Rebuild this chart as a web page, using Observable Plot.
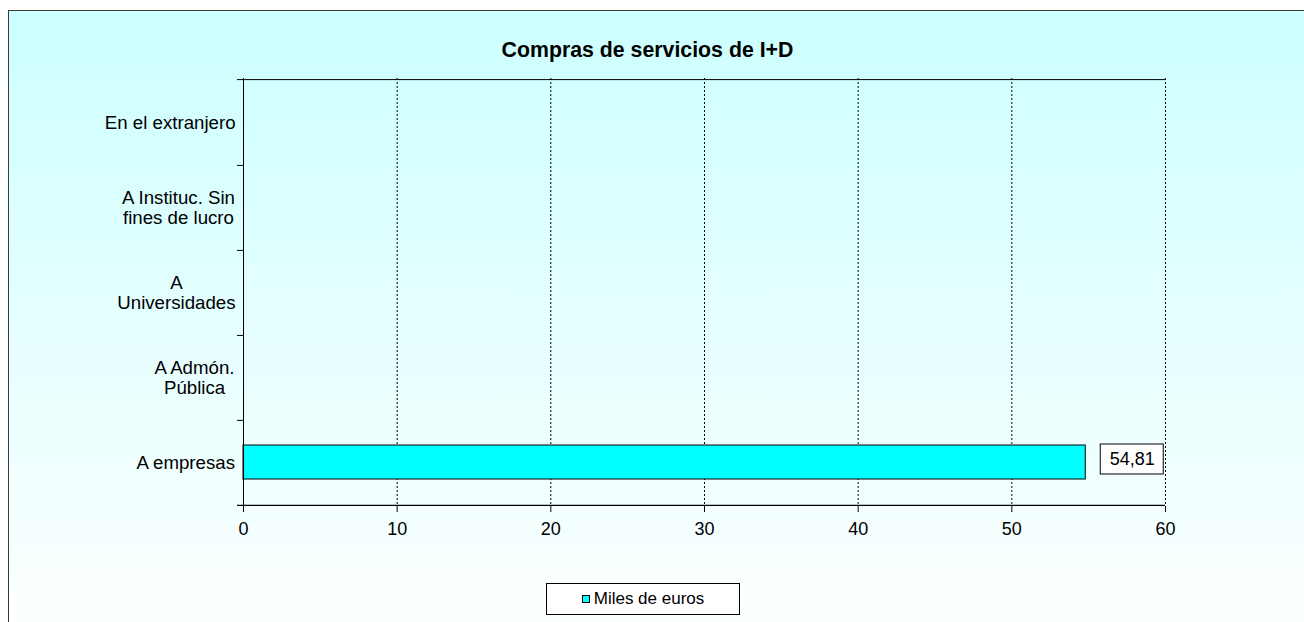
<!DOCTYPE html>
<html>
<head>
<meta charset="utf-8">
<script src="https://cdn.jsdelivr.net/npm/d3@7"></script>
<script src="https://cdn.jsdelivr.net/npm/@observablehq/plot@0.6"></script>
<style>
html, body { margin: 0; padding: 0; background: #ffffff; width: 1304px; height: 622px; overflow: hidden; font-family: "Liberation Sans", Arial, sans-serif; }
#bg { position: absolute; left: 8px; top: 10px; width: 1400px; height: 640px; border-left: 1px solid #3a3a3a; border-top: 1px solid #3a3a3a; background: linear-gradient(#CCFFFF, #FFFFFF); }
#title { position: absolute; left: 0; top: 38px; width: 1295px; text-align: center; font-weight: bold; font-size: 21.3px; line-height: 24px; color: #000; }
#plot { position: absolute; left: 0; top: 0; }
#plot svg { background: transparent; overflow: visible; }
#legend { position: absolute; left: 546px; top: 583px; width: 194px; height: 32px; box-sizing: border-box; border: 1px solid #000; background: #fff; display: flex; align-items: center; justify-content: center; font-size: 17px; color: #000; }
#legend .sw { width: 8px; height: 8px; box-sizing: border-box; border: 1px solid #000; background: #00FFFF; margin-right: 4px; }
</style>
</head>
<body>
<div id="bg"></div>
<div id="title">Compras de servicios de I+D</div>
<div id="plot"></div>
<div id="legend"><span class="sw"></span><span>Miles de euros</span></div>
<script>
// ---- data ----
const categories = ["En el extranjero", "A Instituc. Sin fines de lucro", "A Universidades", "A Admón. Pública", "A empresas"];
const categoryLabels = ["En el extranjero", "A Instituc. Sin\nfines de lucro", "A\nUniversidades", "A Admón.\nPública", "A empresas"];
const values = [0, 0, 0, 0, 54.81];
const xTicks = [0, 10, 20, 30, 40, 50, 60];
const seriesName = "Miles de euros";

// ---- layout ----
const W = 1304, mLeft = 243, mRight = 139, mTop = 78, plotBottom = 507, mBottom = 53;
const H = plotBottom + mBottom;
const step = (plotBottom - mTop) / categories.length;
const font = '"Liberation Sans", Arial, sans-serif';

const data = categories.map((c, i) => ({category: c, label: categoryLabels[i], value: values[i]}));
const barData = data.filter(d => d.value > 0);

const canvas = document.createElement("canvas");
const ctx = canvas.getContext("2d");
ctx.font = `18.67px ${font}`;
const labelMarks = data.map(d => {
  const w = Math.max(...d.label.split("\n").map(l => ctx.measureText(l).width));
  return Plot.text([d], {y: "category", text: "label", frameAnchor: "left", textAnchor: "middle",
    dx: -(8 + w / 2), fontSize: 18.67, lineHeight: 1.07, fill: "#000"});
});

const chart = Plot.plot({
  width: W, height: H,
  marginLeft: mLeft, marginRight: mRight, marginTop: mTop, marginBottom: mBottom,
  style: {background: "transparent", fontFamily: font, color: "#000", overflow: "visible"},
  x: {domain: [0, 60], ticks: xTicks},
  y: {domain: categories, type: "band", paddingInner: 0.6, paddingOuter: 0.3, axis: null},
  marks: [
    Plot.ruleX(xTicks.filter(t => t > 0), {stroke: "#000", strokeDasharray: "2,2", strokeWidth: 1}),
    Plot.barX(barData, {x: "value", y: "category", fill: "#00FFFF", stroke: "#000", strokeWidth: 1}),
    Plot.barX(barData, {x1: "value", x2: "value", y: "category", insetLeft: 15, insetRight: -78, insetTop: -1, insetBottom: 5, fill: "#fff", stroke: "#000", strokeWidth: 1}),
    Plot.text(barData, {x: "value", y: "category", text: d => d.value.toFixed(2).replace(".", ","), dx: 46.5, dy: -3, textAnchor: "middle", fontSize: 18, fill: "#000"}),
    Plot.ruleX([0], {stroke: "#000", strokeWidth: 1}),
    Plot.ruleY([categories[0]], {y: d => d, dy: -step / 2, insetLeft: -6, stroke: "#000", strokeWidth: 1}),
    Plot.ruleY([categories[categories.length - 1]], {y: d => d, dy: step / 2, insetLeft: -6, stroke: "#000", strokeWidth: 1.2}),
    Plot.ruleY(categories.slice(0, -1), {y: d => d, dy: step / 2, x1: 0, x2: 0, insetLeft: -6, stroke: "#000", strokeWidth: 1}),
    Plot.axisX({ticks: xTicks, tickSize: 5, tickPadding: 10, fontSize: 18, label: null, stroke: "#000", fill: "#000"}),
    ...labelMarks
  ]
});
document.getElementById("plot").appendChild(chart);
</script>
</body>
</html>
